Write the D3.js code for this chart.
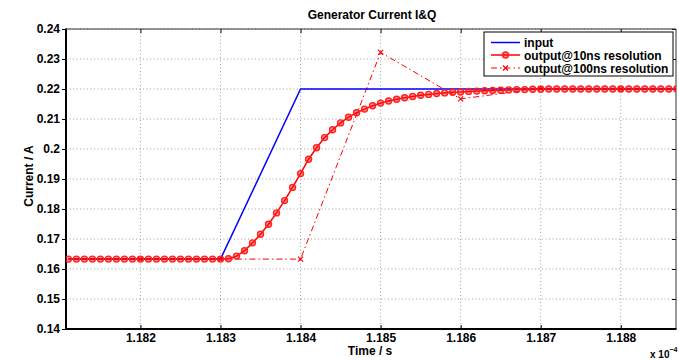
<!DOCTYPE html>
<html><head><meta charset="utf-8">
<script src="https://cdn.jsdelivr.net/npm/d3@7"></script>
<style>body{margin:0;background:#fff}text{font-family:"Liberation Sans",Arial,sans-serif;font-weight:bold}</style>
</head><body>
<svg id="c" width="679" height="360"></svg>
<script>
// Time in units of 1e-4 s
const xTicks = [1.182, 1.183, 1.184, 1.185, 1.186, 1.187, 1.188];
const xTickLabels = ["1.182","1.183","1.184","1.185","1.186","1.187","1.188"];
const yTicks = [0.14,0.15,0.16,0.17,0.18,0.19,0.20,0.21,0.22,0.23,0.24];
const yTickLabels = ["0.14","0.15","0.16","0.17","0.18","0.19","0.2","0.21","0.22","0.23","0.24"];

const inputT = [1.1811, 1.1830, 1.1840, 1.1887];
const inputV = [0.1633, 0.1633, 0.2200, 0.2200];

const out10T = [
 1.1811,1.1812,1.1813,1.1814,1.1815,1.1816,1.1817,1.1818,1.1819,1.1820,
 1.1821,1.1822,1.1823,1.1824,1.1825,1.1826,1.1827,1.1828,1.1829,1.1830,
 1.1831,1.1832,1.1833,1.1834,1.1835,1.1836,1.1837,1.1838,1.1839,1.1840,
 1.1841,1.1842,1.1843,1.1844,1.1845,1.1846,1.1847,1.1848,1.1849,1.1850,
 1.1851,1.1852,1.1853,1.1854,1.1855,1.1856,1.1857,1.1858,1.1859,1.1860,
 1.1861,1.1862,1.1863,1.1864,1.1865,1.1866,1.1867,1.1868,1.1869,1.1870,
 1.1871,1.1872,1.1873,1.1874,1.1875,1.1876,1.1877,1.1878,1.1879,1.1880,
 1.1881,1.1882,1.1883,1.1884,1.1885,1.1886,1.1887];
const out10V = [
 0.1633,0.1633,0.1633,0.1633,0.1633,0.1633,0.1633,0.1633,0.1633,0.1633,
 0.1633,0.1633,0.1633,0.1633,0.1633,0.1633,0.1633,0.1633,0.1633,0.1633,
 0.1634,0.1643,0.1661,0.1687,0.1716,0.1749,0.1787,0.1828,0.1872,0.1918,
 0.1966,0.2004,0.2038,0.2064,0.2087,0.2106,0.2121,0.2133,0.2144,0.2153,
 0.2160,0.2166,0.2171,0.2175,0.2179,0.2182,0.2185,0.2187,0.2189,0.2190,
 0.2192,0.2193,0.2194,0.2195,0.2196,0.2197,0.2198,0.2198,0.2199,0.2199,
 0.2200,0.2200,0.2200,0.2200,0.2200,0.2200,0.2200,0.2200,0.2200,0.2200,
 0.2200,0.2200,0.2200,0.2200,0.2200,0.2200,0.2200];

const out100T = [1.181, 1.182, 1.183, 1.184, 1.185, 1.186, 1.187, 1.188, 1.189];
const out100V = [0.1633, 0.1633, 0.1633, 0.1633, 0.2322, 0.2167, 0.2202, 0.2200, 0.2200];

const legendLabels = ["input", "output@10ns resolution", "output@100ns resolution"];

const L = 66, R = 676, T = 29, B = 329;
const svg = d3.select("#c");
const x = d3.scaleLinear().domain([1.18107, 1.18869]).range([L, R]);
const y = d3.scaleLinear().domain([0.14, 0.24]).range([B, T]);

svg.append("defs").append("clipPath").attr("id","clip")
  .append("rect").attr("x",L).attr("y",T).attr("width",R-L).attr("height",B-T);

// grid
const grid = svg.append("g").attr("stroke","#8a8a8a").attr("stroke-width",0.8).attr("stroke-dasharray","1,2.5");
xTicks.forEach(v=>grid.append("line").attr("x1",x(v)).attr("x2",x(v)).attr("y1",T).attr("y2",B));
yTicks.forEach(v=>grid.append("line").attr("x1",L).attr("x2",R).attr("y1",y(v)).attr("y2",y(v)));

const fs = "12px";
const xAx = svg.append("g").attr("transform",`translate(0,${B})`)
  .call(d3.axisBottom(x).tickValues(xTicks).tickFormat((d,i)=>xTickLabels[i]).tickSizeInner(-4).tickSizeOuter(0).tickPadding(4));
const xAxTop = svg.append("g").attr("transform",`translate(0,${T})`)
  .call(d3.axisTop(x).tickValues(xTicks).tickFormat("").tickSizeInner(-4).tickSizeOuter(0));
const yAx = svg.append("g").attr("transform",`translate(${L},0)`)
  .call(d3.axisLeft(y).tickValues(yTicks).tickFormat((d,i)=>yTickLabels[i]).tickSizeInner(4).tickSizeOuter(0).tickPadding(2));
const yAxR = svg.append("g").attr("transform",`translate(${R},0)`)
  .call(d3.axisRight(y).tickValues(yTicks).tickFormat("").tickSizeInner(-4).tickSizeOuter(0));
[xAx,xAxTop,yAx,yAxR].forEach(g=>{
  g.attr("font-family",null).attr("font-size",null);
  g.select(".domain").remove();
  g.selectAll(".tick line").attr("stroke","#000").attr("stroke-width",1);
  g.selectAll("text").attr("fill","#000")
    .style("font-size",fs).style("font-weight","bold").style("font-family","'Liberation Sans',Arial,sans-serif");
});

// box
svg.append("line").attr("x1",L).attr("x2",R).attr("y1",T).attr("y2",T).attr("stroke","#333").attr("stroke-width",1);
svg.append("line").attr("x1",R).attr("x2",R).attr("y1",T).attr("y2",B).attr("stroke","#333").attr("stroke-width",1);
svg.append("line").attr("x1",L).attr("x2",R+0.5).attr("y1",B).attr("y2",B).attr("stroke","#000").attr("stroke-width",2);
svg.append("line").attr("x1",L).attr("x2",L).attr("y1",T-0.5).attr("y2",B+1).attr("stroke","#000").attr("stroke-width",2);

const plot = svg.append("g").attr("clip-path","url(#clip)");
const line = d3.line().x(d=>x(d[0])).y(d=>y(d[1]));
const zip = (a,b)=>a.map((v,i)=>[v,b[i]]);

// 100ns dash-dot
const d100 = zip(out100T,out100V);
plot.append("path").attr("d",line(d100)).attr("fill","none").attr("stroke","#ff0000").attr("stroke-width",1).attr("stroke-dasharray","6,3,1.5,3");
function xMark(g,cx,cy,s){
  g.append("path").attr("d",`M${cx-s},${cy-s}L${cx+s},${cy+s}M${cx-s},${cy+s}L${cx+s},${cy-s}`).attr("stroke","#ff0000").attr("stroke-width",1.2).attr("fill","none");
}
d100.forEach(d=>xMark(plot,x(d[0]),y(d[1]),2.5));

// input
plot.append("path").attr("d",line(zip(inputT,inputV))).attr("fill","none").attr("stroke","#0000ff").attr("stroke-width",1.5);

// 10ns
const d10 = zip(out10T,out10V);
plot.append("path").attr("d",line(d10)).attr("fill","none").attr("stroke","#ff0000").attr("stroke-width",1.5);
plot.selectAll("circle.m").data(d10).enter().append("circle")
  .attr("cx",d=>x(d[0])).attr("cy",d=>y(d[1])).attr("r",3)
  .attr("fill","rgba(255,0,0,0.4)").attr("stroke","#ff2020").attr("stroke-width",1.4);

// labels
svg.append("text").attr("x",372).attr("y",19).attr("text-anchor","middle").attr("font-size","12px").text("Generator Current I&Q");
svg.append("text").attr("x",370).attr("y",355).attr("text-anchor","middle").attr("font-size","12px").text("Time / s");
svg.append("text").attr("transform","translate(33,176) rotate(-90)").attr("text-anchor","middle").attr("font-size","12px").text("Current / A");
const ex = svg.append("text").attr("x",650).attr("y",358).attr("font-size","10px");
ex.append("tspan").text("x 10");
ex.append("tspan").attr("dy",-6).attr("font-size","7px").text("−4");

// legend
const lg = svg.append("g");
lg.append("rect").attr("x",484).attr("y",32).attr("width",189).attr("height",44).attr("fill","#fff").attr("stroke","#000").attr("stroke-width",1);
const ly = [42.5, 55, 68];
const lx1 = 491, lx2 = 520;
lg.append("line").attr("x1",lx1).attr("x2",lx2).attr("y1",ly[0]).attr("y2",ly[0]).attr("stroke","#0000ff").attr("stroke-width",1.5);
lg.append("line").attr("x1",lx1).attr("x2",lx2).attr("y1",ly[1]).attr("y2",ly[1]).attr("stroke","#ff0000").attr("stroke-width",1.5);
lg.append("circle").attr("cx",(lx1+lx2)/2).attr("cy",ly[1]).attr("r",3).attr("fill","rgba(255,0,0,0.4)").attr("stroke","#ff2020").attr("stroke-width",1.4);
lg.append("line").attr("x1",lx1).attr("x2",lx2).attr("y1",ly[2]).attr("y2",ly[2]).attr("stroke","#ff0000").attr("stroke-width",1).attr("stroke-dasharray","6,3,1.5,3");
xMark(lg,(lx1+lx2)/2,ly[2],2.5);
legendLabels.forEach((t,i)=>lg.append("text").attr("x",524).attr("y",ly[i]+4.5).attr("font-size","12px").text(t));
</script>
</body></html>
